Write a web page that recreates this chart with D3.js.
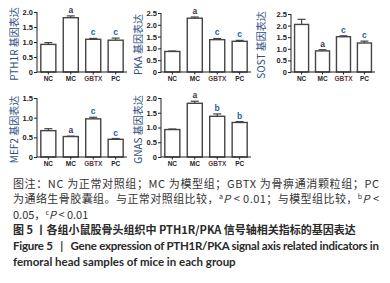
<!DOCTYPE html>
<html>
<head>
<meta charset="utf-8">
<script src="https://cdn.jsdelivr.net/npm/d3@7"></script>
<style>
  body { margin: 0; background: #fff; }
  svg { display: block; }
  .pre { white-space: pre; }
</style>
</head>
<body>
<script>
const width = 390
const height = 283

// data
const groups = ['NC', 'MC', 'GBTX', 'PC']
const genes = ['PTH1R', 'PKA', 'SOST', 'MEF2', 'GNAS']
const means = {
  PTH1R: [0.92, 1.81, 1.09, 1.06],
  PKA: [0.87, 2.28, 1.37, 1.30],
  SOST: [2.05, 0.91, 1.52, 1.25],
  MEF2: [0.67, 0.52, 0.97, 0.45],
  GNAS: [0.93, 1.82, 1.38, 1.17]
}
const errs = {
  PTH1R: [0.06, 0.06, 0.03, 0.07],
  PKA: [0.02, 0.05, 0.05, 0.04],
  SOST: [0.22, 0.05, 0.04, 0.08],
  MEF2: [0.05, 0.01, 0.04, 0.02],
  GNAS: [0.02, 0.07, 0.08, 0.03]
}
const sigLetters = {
  PTH1R: ['', 'a', 'c', 'c'],
  PKA: ['', 'a', 'c', 'c'],
  SOST: ['', 'a', 'c', 'c'],
  MEF2: ['', 'a', 'c', 'c'],
  GNAS: ['', 'a', 'b', 'b']
}
const yTicks = {
  PTH1R: [0, 0.5, 1.0, 1.5, 2.0],
  PKA: [0, 0.5, 1.0, 1.5, 2.0, 2.5],
  SOST: [0, 0.5, 1.0, 1.5, 2.0, 2.5],
  MEF2: [0, 0.5, 1.0, 1.5],
  GNAS: [0, 0.5, 1.0, 1.5, 2.0]
}

// panel frames: axis origin x, right end, top y, bottom y, label offset
const panels = {
  PTH1R: {x0: 37, x1: 127, y0: 12, y1: 72, lab: 19},
  PKA: {x0: 161, x1: 251, y0: 13, y1: 72, lab: 19},
  SOST: {x0: 291, x1: 375, y0: 14, y1: 72, lab: 26},
  MEF2: {x0: 37, x1: 127, y0: 98, y1: 157, lab: 19},
  GNAS: {x0: 161, x1: 251, y0: 98, y1: 157, lab: 19}
}

const captionLines = [
  {t: '图注：NC 为正常对照组；MC 为模型组；GBTX 为骨痹通消颗粒组；PC', y: 188, just: true},
  {t: null, y: 203, just: true},
  {t: null, y: 219, just: false},
  {t: '图 5 丨各组小鼠股骨头组织中 PTH1R/PKA 信号轴相关指标的基因表达', y: 234, bold: true, just: false},
  {t: 'Figure 5   |   Gene expression of PTH1R/PKA signal axis related indicators in', y: 250, bold: true, just: true, en: true},
  {t: 'femoral head samples of mice in each group', y: 266, bold: true, en: true}
]

const svg = d3.select('body')
  .append('svg')
  .attr('width', width)
  .attr('height', height)

const cjk = '"Noto Sans CJK SC", "Noto Sans", sans-serif'
const axisCol = '#222'
const barCol = '#444'
const labelCol = '#2f4f82'

genes.forEach((gene) => {
  const p = panels[gene]
  const x = d3.scaleBand().domain(groups).range([p.x0, p.x1]).paddingInner(0.33).paddingOuter(0.17)
  const ticks = yTicks[gene]
  const y = d3.scaleLinear().domain([0, d3.max(ticks)]).range([p.y1, p.y0])
  const g = svg.append('g')

  // bars
  g.selectAll('rect.bar')
    .data(groups)
    .enter()
    .append('rect')
    .attr('x', (d) => x(d))
    .attr('y', (d, i) => y(means[gene][i]))
    .attr('width', x.bandwidth())
    .attr('height', (d, i) => y(0) - y(means[gene][i]))
    .attr('fill', '#fff')
    .attr('stroke', barCol)
    .attr('stroke-width', 1.4)

  // error bars (upper only)
  groups.forEach((d, i) => {
    const cx = x(d) + x.bandwidth() / 2
    const top = y(means[gene][i] + errs[gene][i])
    g.append('line')
      .attr('x1', cx).attr('x2', cx)
      .attr('y1', y(means[gene][i])).attr('y2', top)
      .attr('stroke', barCol).attr('stroke-width', 1.2)
    g.append('line')
      .attr('x1', cx - 4).attr('x2', cx + 4)
      .attr('y1', top).attr('y2', top)
      .attr('stroke', barCol).attr('stroke-width', 1.2)
    if (sigLetters[gene][i]) {
      g.append('text')
        .attr('x', cx)
        .attr('y', top - 3)
        .attr('text-anchor', 'middle')
        .attr('font-family', 'Liberation Sans, Arial, sans-serif')
        .attr('font-weight', 'bold')
        .attr('font-size', 8.5)
        .attr('fill', sigLetters[gene][i] === 'a' ? '#3a3550' : '#2e5da3')
        .text(sigLetters[gene][i])
    }
  })

  // y axis
  const yAxis = g.append('g')
    .attr('transform', `translate(${p.x0}, 0)`)
    .call(d3.axisLeft(y).tickValues(ticks).tickSize(3).tickPadding(1)
      .tickFormat((d) => d === 0 ? '0' : d3.format('.1f')(d)))
  yAxis.selectAll('text')
    .attr('font-family', 'Liberation Sans, Arial, sans-serif')
    .attr('font-weight', 'bold')
    .attr('font-size', 7.5)
    .attr('fill', axisCol)
  yAxis.selectAll('path, line').attr('stroke', axisCol)
  yAxis.select('path').attr('d', `M0,${p.y0}V${p.y1}`)

  // x axis
  const xAxis = g.append('g')
    .attr('transform', `translate(0, ${p.y1})`)
    .call(d3.axisBottom(x).tickSize(2.5).tickPadding(1.5))
  xAxis.selectAll('text')
    .attr('font-family', 'Liberation Sans, Arial, sans-serif')
    .attr('font-weight', 'bold')
    .attr('font-size', 6.5)
    .attr('fill', (d) => d === 'GBTX' ? '#5a3a3a' : axisCol)
  xAxis.selectAll('path, line').attr('stroke', axisCol)
  xAxis.select('path').attr('d', `M${p.x0},0H${p.x1}`)

  // y label
  g.append('text')
    .attr('transform', `translate(${p.x0 - p.lab}, ${(p.y0 + p.y1) / 2 + 2}) rotate(-90)`)
    .attr('text-anchor', 'middle')
    .attr('font-family', cjk)
    .attr('font-size', 10)
    .attr('fill', labelCol)
    .text(`${gene} 基因表达`)
})

// caption
const cap = svg.append('g')
  .attr('font-family', cjk)
  .attr('font-size', 11)
  .attr('fill', '#333')

captionLines.forEach((l, i) => {
  const t = cap.append('text')
    .attr('class', 'pre')
    .attr('x', 13)
    .attr('y', l.y)
  if (l.bold) t.attr('font-weight', 'bold').attr('fill', '#2a2a2a')
  if (l.en) t.attr('font-family', 'Lato, "Open Sans", sans-serif').attr('font-size', 11.5)
  if (l.just) t.attr('textLength', 366).attr('lengthAdjust', 'spacing')
  if (i === 1) {
    t.append('tspan').text('为通络生骨胶囊组。与正常对照组比较，')
    t.append('tspan').attr('font-size', 7).attr('dy', -4).text('a')
    t.append('tspan').attr('dy', 4).attr('font-style', 'italic').text('P')
    t.append('tspan').text(' < 0.01；与模型组比较，')
    t.append('tspan').attr('font-size', 7).attr('dy', -4).text('b')
    t.append('tspan').attr('dy', 4).attr('font-style', 'italic').text('P')
    t.append('tspan').text(' <')
  } else if (i === 2) {
    t.append('tspan').text('0.05，')
    t.append('tspan').attr('font-size', 7).attr('dy', -4).text('c')
    t.append('tspan').attr('dy', 4).attr('font-style', 'italic').text('P')
    t.append('tspan').text(' < 0.01')
  } else {
    t.text(l.t)
  }
})
</script>
</body>
</html>
